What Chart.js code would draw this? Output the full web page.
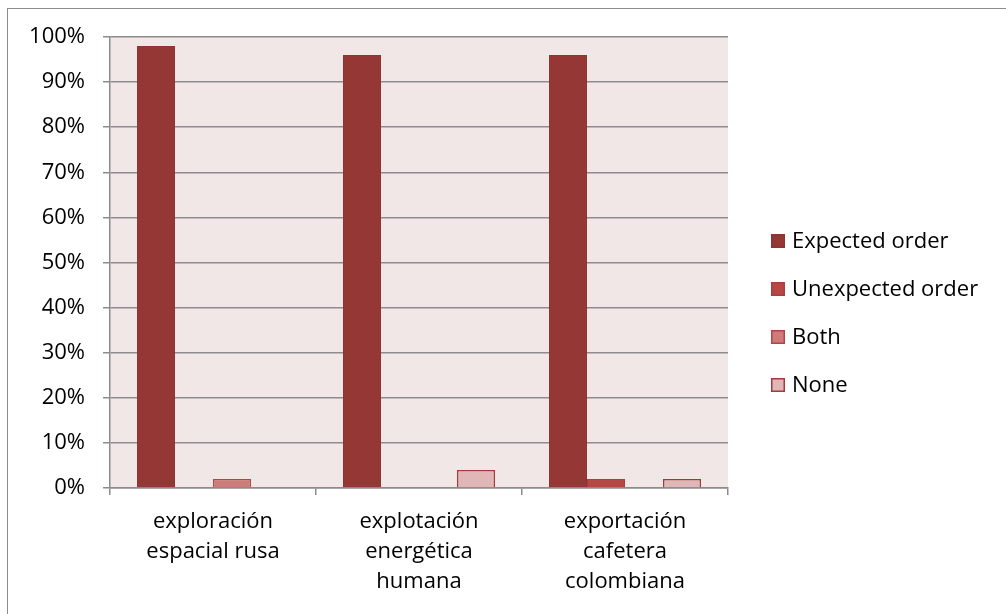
<!DOCTYPE html>
<html>
<head>
<meta charset="utf-8">
<script src="https://cdn.jsdelivr.net/npm/chart.js@4"></script>
<style>
html,body{margin:0;padding:0;background:#fff;}
#wrap{position:relative;width:1006px;height:614px;}
#frame{position:absolute;left:7px;top:8px;right:0;bottom:0;border-left:1.5px solid #8c8c8c;border-top:1.5px solid #8c8c8c;}
canvas{position:absolute;left:0;top:0;}
</style>
</head>
<body>
<div id="wrap"><div id="frame"></div><canvas id="c" width="1006" height="614"></canvas></div>
<script>
const categories = [['exploración','espacial rusa'],['explotación','energética','humana'],['exportación','cafetera','colombiana']];
const seriesNames = ['Expected order','Unexpected order','Both','None'];
const expectedOrder = [98, 96, 96];
const unexpectedOrder = [0, 0, 2];
const both = [2, 0, 0];
const none = [0, 4, 2];
const yTicks = [0,10,20,30,40,50,60,70,80,90,100];

const fills = ['#953735','#B84644','#CE7B79','#E0B6B6'];
const borders = ['#8E3432','#A63F3D','#AE4846','#A23B39'];
const values = [expectedOrder, unexpectedOrder, both, none];
const FONT = '"Open Sans", Lato, sans-serif';

const bgPlugin = {
  id:'bg',
  beforeDraw(chart){
    const {ctx, chartArea:a} = chart;
    ctx.save(); ctx.fillStyle='#F2E7E7';
    ctx.fillRect(a.left,a.top,a.right-a.left,a.bottom-a.top);
    ctx.restore();
  }
};
const legendPlugin = {
  id:'customLegend',
  afterDraw(chart){
    const ctx = chart.ctx;
    ctx.save();
    ctx.font = '22px ' + FONT;
    ctx.textBaseline = 'middle';
    chart.data.datasets.forEach((ds,i)=>{
      const y = 241 + i*48;
      ctx.fillStyle = ds.backgroundColor;
      ctx.fillRect(771, y-7, 14, 14);
      ctx.strokeStyle = ds.borderColor; ctx.lineWidth = 1.5;
      ctx.strokeRect(771.75, y-6.25, 12.5, 12.5);
      ctx.fillStyle = '#000';
      ctx.fillText(ds.label, 792, y+1);
    });
    ctx.restore();
  }
};

new Chart(document.getElementById('c'), {
  type:'bar',
  data:{
    labels: categories,
    datasets: seriesNames.map((n,i)=>({
      label:n, data:values[i], backgroundColor:fills[i], borderColor:borders[i],
      borderWidth: i<2 ? 1 : 1.5, categoryPercentage:0.738, barPercentage:1
    }))
  },
  options:{
    responsive:false, animation:false, devicePixelRatio:1,
    layout:{padding:{top:37,right:278,bottom:0,left:0}},
    plugins:{legend:{display:false}, tooltip:{enabled:false}},
    scales:{
      x:{
        grid:{offset:true, drawOnChartArea:false, drawTicks:true, tickLength:7, color:'#8c8c8c', lineWidth:1.5},
        border:{color:'#8c8c8c', width:1.5},
        ticks:{color:'#000', font:{family:FONT, size:22, lineHeight:1.36}, padding:12, maxRotation:0, autoSkip:false},
        afterFit(s){ s.height = 126; }
      },
      y:{
        min:0, max:100,
        afterBuildTicks(s){ s.ticks = yTicks.map(v=>({value:v})); },
        grid:{color:'#8c8c8c', lineWidth:1.5, tickLength:7},
        border:{color:'#8c8c8c', width:1.5},
        ticks:{color:'#000', font:{family:FONT, size:22}, padding:18, callback:v=>v+'%'},
        afterFit(s){ s.width = 110; }
      }
    }
  },
  plugins:[bgPlugin, legendPlugin]
});
</script>
</body>
</html>
